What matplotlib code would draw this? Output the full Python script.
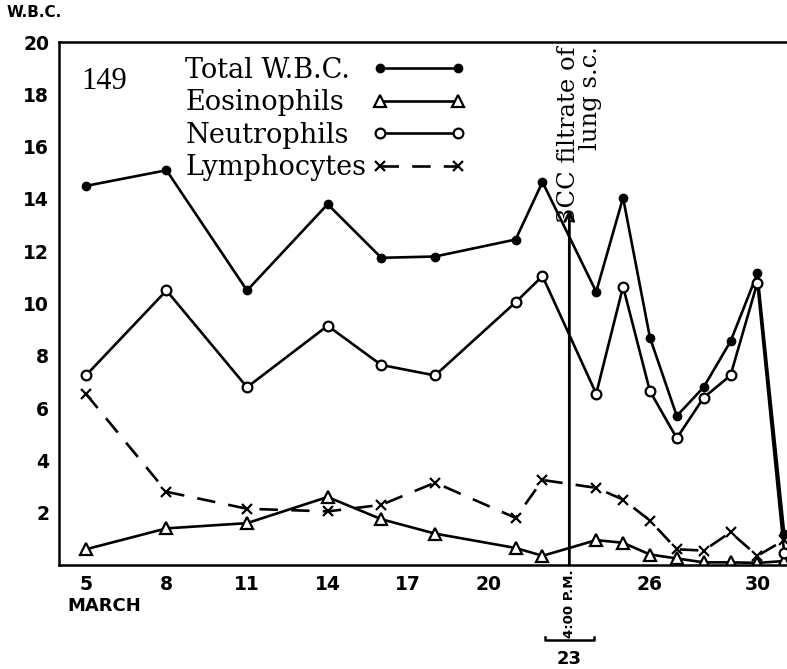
import matplotlib.pyplot as plt

# days in March for each sample
days = [5, 8, 11, 14, 16, 18, 21, 22, 24, 25, 26, 27, 28, 29, 30, 31]

total_wbc = [14.5, 15.1, 10.5, 13.8, 11.75, 11.8, 12.45, 14.65, 10.45, 14.05, 8.7, 5.7, 6.8, 8.55, 11.15, 1.2]
eosinophils = [0.6, 1.4, 1.6, 2.6, 1.75, 1.2, 0.65, 0.35, 0.95, 0.85, 0.4, 0.25, 0.1, 0.1, 0.08, 0.15]
neutrophils = [7.25, 10.5, 6.8, 9.15, 7.65, 7.25, 10.05, 11.05, 6.55, 10.65, 6.65, 4.85, 6.4, 7.25, 10.8, 0.45]
lymphocytes = [6.55, 2.8, 2.15, 2.05, 2.3, 3.15, 1.8, 3.25, 2.95, 2.5, 1.7, 0.6, 0.55, 1.25, 0.35, 0.95]

xticks = [5, 8, 11, 14, 17, 20, 26, 30]
yticks = [2, 4, 6, 8, 10, 12, 14, 16, 18, 20]

inj_day = 23        # injection, 4:00 P.M.
arrow_top = 13.6

serif = ['DejaVu Serif']
bold_sans = ['DejaVu Sans']

fig = plt.figure(figsize=(7.87, 6.69), dpi=100)
ax = fig.add_axes([0.075, 0.1555, 0.93, 0.7815])

lw = 1.9
ax.plot(days, total_wbc, color='black', lw=lw, marker='o', ms=6, label='Total W.B.C.')
ax.plot(days, eosinophils, color='black', lw=lw, marker='^', ms=8, mfc='white', mew=1.6, label='Eosinophils')
ax.plot(days, neutrophils, color='black', lw=lw, marker='o', ms=7, mfc='white', mew=1.6, label='Neutrophils')
ax.plot(days, lymphocytes, color='black', lw=lw, marker='x', ms=7, mew=1.6, dashes=(7, 5), label='Lymphocytes')

ax.set_xlim(4.0, 31.25)
ax.set_ylim(0, 20)
ax.set_xticks(xticks)
ax.set_yticks(yticks)
ax.tick_params(length=0, pad=7, labelsize=13.5)
for lab in ax.get_xticklabels() + ax.get_yticklabels():
    lab.set_fontweight('bold')
    lab.set_family(bold_sans)
for s in ax.spines.values():
    s.set_linewidth(1.8)
ax.spines['right'].set_visible(False)

leg = ax.legend(loc='upper left', bbox_to_anchor=(0.154, 0.998), frameon=False,
                markerfirst=False, numpoints=2, handlelength=3.5, handletextpad=0.2,
                borderpad=0, labelspacing=0.2, prop={'family': serif, 'size': 19.5})

# legend labels left-aligned like the original: redraw them at the common left edge
fig.canvas.draw()
rend = fig.canvas.get_renderer()
ltexts = leg.get_texts()
left = min(t.get_window_extent(rend).x0 for t in ltexts)
inv = fig.transFigure.inverted()
for t in ltexts:
    px, py = t.get_transform().transform(t.get_position())
    fx, fy = inv.transform((left, py))
    fig.text(fx, fy, t.get_text(), ha='left', va='baseline', family=serif, fontsize=19.5)
    t.set_alpha(0)

ax.text(0.03, 0.925, '149', transform=ax.transAxes, fontsize=22, family=['Liberation Serif'],
        va='center')

# injection arrow and note
ax.annotate('', xy=(inj_day, arrow_top), xytext=(inj_day, 0),
            arrowprops=dict(arrowstyle='->', lw=2, color='black', shrinkA=0, shrinkB=0,
                            mutation_scale=16))
ax.text(inj_day + 0.38, 19.85, '3CC filtrate of\nlung s.c.', rotation=90, ha='center', va='top',
        multialignment='right', fontsize=17.5, family=serif, linespacing=0.95)

xt = ax.get_xaxis_transform()
ax.text(inj_day, -0.008, '4:00 P.M.', transform=xt, rotation=90, ha='center', va='top',
        fontsize=9.5, fontweight='bold', family=bold_sans)
ax.plot([inj_day - 0.9, inj_day - 0.9, inj_day + 0.9, inj_day + 0.9], [-0.137, -0.144, -0.144, -0.137],
        transform=xt, color='black', lw=1.8, clip_on=False)
ax.text(inj_day, -0.18, '23', transform=xt, ha='center', va='center', fontsize=13,
        fontweight='bold', family=bold_sans)
ax.text(5.7, -0.078, 'MARCH', transform=xt, ha='center', va='center', fontsize=13,
        fontweight='bold', family=bold_sans)
fig.text(0.043, 0.982, 'W.B.C.', ha='center', va='center', fontsize=11, fontweight='bold',
         family=bold_sans)

fig.savefig('out.png', dpi=100)
